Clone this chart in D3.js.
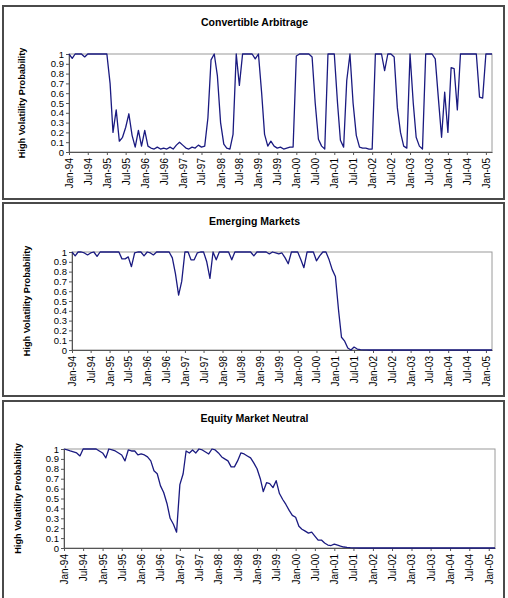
<!DOCTYPE html>
<html>
<head>
<meta charset="utf-8">
<script src="https://cdn.jsdelivr.net/npm/d3@7"></script>
<style>
  body { margin: 0; background: #fff; }
  svg { display: block; font-family: "Liberation Sans", Arial, sans-serif; }
</style>
</head>
<body>
<div id="chart"></div>
<script>
// Monthly regime probabilities, Jan-94 .. Mar-05 (one row per year)
const convertibleArbitrage = [
    1, 0.955, 1, 1, 1, 0.97, 1, 1, 1, 1, 1, 1,
    1, 0.7, 0.2, 0.43, 0.11, 0.15, 0.25, 0.39, 0.17, 0.05, 0.22, 0.06,
    0.22, 0.06, 0.04, 0.03, 0.05, 0.03, 0.04, 0.03, 0.05, 0.03, 0.07, 0.1,
    0.07, 0.04, 0.03, 0.05, 0.04, 0.07, 0.05, 0.06, 0.35, 0.94, 1, 0.78,
    0.3, 0.08, 0.04, 0.03, 0.18, 1, 0.68, 1, 1, 1, 1, 0.95,
    1, 0.6, 0.18, 0.06, 0.11, 0.06, 0.04, 0.05, 0.03, 0.04, 0.05, 0.05,
    0.98, 1, 1, 1, 1, 0.97, 0.5, 0.13, 0.06, 0.03, 1, 1,
    1, 0.5, 0.12, 0.05, 0.73, 1, 0.5, 0.17, 0.05, 0.04, 0.04, 0.03,
    0.03, 1, 1, 1, 0.83, 1, 1, 0.97, 0.45, 0.2, 0.06, 0.04,
    1, 0.5, 0.15, 0.06, 0.03, 1, 1, 1, 0.95, 0.55, 0.15, 0.61,
    0.2, 0.86, 0.85, 0.43, 1, 1, 1, 1, 1, 1, 0.56, 0.55,
    1, 1, 1
];

const emergingMarkets = [
    1, 0.96, 1, 1, 0.99, 0.97, 0.99, 1, 0.955, 1, 1, 1,
    1, 1, 1, 1, 0.93, 0.93, 0.95, 0.85, 0.99, 1, 1, 0.96,
    1, 0.99, 0.97, 1, 1, 1, 1, 1, 0.94, 0.78, 0.56, 0.7,
    1, 1, 0.92, 0.92, 0.99, 1, 1, 0.9, 0.73, 1, 0.92, 1,
    1, 1, 1, 0.92, 1, 1, 1, 1, 1, 1, 0.96, 1,
    1, 1, 1, 0.98, 1, 0.99, 0.98, 0.99, 0.94, 0.88, 1, 1,
    1, 0.92, 0.84, 1, 1, 1, 0.91, 0.96, 1, 1, 0.92, 0.82,
    0.75, 0.4, 0.13, 0.09, 0.02, 0, 0.03, 0.01, 0.004, 0.002, 0.001, 0,
    0, 0, 0, 0, 0, 0, 0, 0, 0, 0, 0, 0,
    0, 0, 0, 0, 0, 0, 0, 0, 0, 0, 0, 0,
    0, 0, 0, 0, 0, 0, 0, 0, 0, 0, 0, 0,
    0, 0, 0
];

const equityMarketNeutral = [
    1, 0.99, 0.98, 0.97, 0.96, 0.93, 1, 1, 1, 1, 1, 0.98,
    0.96, 0.91, 1, 0.99, 0.98, 0.96, 0.94, 0.88, 0.99, 0.98, 0.98, 0.94,
    0.95, 0.94, 0.92, 0.88, 0.78, 0.75, 0.63, 0.56, 0.45, 0.3, 0.24, 0.16,
    0.64, 0.75, 0.98, 0.96, 0.99, 0.96, 1, 0.99, 0.97, 0.95, 1, 0.99,
    0.96, 0.92, 0.9, 0.88, 0.82, 0.82, 0.88, 0.96, 0.95, 0.93, 0.91, 0.86,
    0.8, 0.7, 0.57, 0.66, 0.65, 0.61, 0.68, 0.55, 0.49, 0.44, 0.38, 0.33,
    0.31, 0.22, 0.19, 0.17, 0.15, 0.16, 0.12, 0.08, 0.08, 0.05, 0.03, 0.025,
    0.04, 0.03, 0.02, 0.01, 0.006, 0.003, 0.002, 0.001, 0, 0, 0, 0,
    0, 0, 0, 0, 0, 0, 0, 0, 0, 0, 0, 0,
    0, 0, 0, 0, 0, 0, 0, 0, 0, 0, 0, 0,
    0, 0, 0, 0, 0, 0, 0, 0, 0, 0, 0, 0,
    0, 0, 0
];

const xTickLabels = [
    "Jan-94", "Jul-94", "Jan-95", "Jul-95", "Jan-96", "Jul-96", "Jan-97", "Jul-97",
    "Jan-98", "Jul-98", "Jan-99", "Jul-99", "Jan-00", "Jul-00", "Jan-01", "Jul-01",
    "Jan-02", "Jul-02", "Jan-03", "Jul-03", "Jan-04", "Jul-04", "Jan-05"
];
const yTickValues = [0, 0.1, 0.2, 0.3, 0.4, 0.5, 0.6, 0.7, 0.8, 0.9, 1];
const firstMonth = "Jan-94";
const yAxisTitle = "High Volatility Probability";

const width = 508;
const height = 598;
const parseMonth = d3.timeParse("%b-%y");
const formatMonth = d3.timeFormat("%b-%y");

// Layout of the three stacked chart boxes
const panels = [
    { title: "Convertible Arbitrage", values: convertibleArbitrage,
      box: { x0: 3, y0: 6, x1: 504, y1: 199 },
      plot: { left: 69, top: 54, right: 492, bottom: 152 },
      titleY: 26, labelX: 22 },
    { title: "Emerging Markets", values: emergingMarkets,
      box: { x0: 3, y0: 203, x1: 504, y1: 396 },
      plot: { left: 72, top: 252, right: 492, bottom: 350 },
      titleY: 224.5, labelX: 27 },
    { title: "Equity Market Neutral", values: equityMarketNeutral,
      box: { x0: 3, y0: 401, x1: 504, y1: 604 },
      plot: { left: 64, top: 449, right: 495, bottom: 548 },
      titleY: 421.5, labelX: 17.5 }
];

const svg = d3.select("#chart")
    .append("svg")
    .attr("width", width)
    .attr("height", height);

function drawPanel(p) {
    const start = parseMonth(firstMonth);
    const months = p.values.map((v, i) => d3.timeMonth.offset(start, i));

    // Outer chart box
    svg.append("rect")
        .attr("x", p.box.x0)
        .attr("y", p.box.y0)
        .attr("width", p.box.x1 - p.box.x0)
        .attr("height", p.box.y1 - p.box.y0)
        .attr("fill", "#fff")
        .attr("stroke", "#4a4a4a")
        .attr("stroke-width", 2);

    const x = d3.scaleTime()
        .domain([months[0], months[months.length - 1]])
        .range([p.plot.left, p.plot.right]);

    const y = d3.scaleLinear()
        .domain([0, 1])
        .range([p.plot.bottom, p.plot.top]);

    // Plot area border
    svg.append("rect")
        .attr("x", p.plot.left)
        .attr("y", p.plot.top)
        .attr("width", p.plot.right - p.plot.left)
        .attr("height", p.plot.bottom - p.plot.top)
        .attr("fill", "none")
        .attr("stroke", "#9a9a9a")
        .attr("stroke-width", 1);

    // Title
    svg.append("text")
        .attr("x", (p.box.x0 + p.box.x1) / 2 + 1)
        .attr("y", p.titleY)
        .attr("text-anchor", "middle")
        .attr("font-size", "10.5px")
        .attr("font-weight", "bold")
        .text(p.title);

    // Y axis
    const yAxis = svg.append("g")
        .attr("transform", `translate(${p.plot.left},0)`)
        .call(d3.axisLeft(y)
            .tickValues(yTickValues)
            .tickSize(3)
            .tickSizeOuter(0)
            .tickPadding(2)
            .tickFormat(d => String(d)));
    yAxis.selectAll("text")
        .attr("font-size", "9.5px")
        .attr("font-family", "Liberation Sans, Arial, sans-serif")
        .attr("fill", "#000");
    yAxis.selectAll("line, path").attr("stroke", "#555");

    // X axis with rotated month labels
    const xAxis = svg.append("g")
        .attr("transform", `translate(0,${p.plot.bottom})`)
        .call(d3.axisBottom(x)
            .tickValues(xTickLabels.map(parseMonth))
            .tickSize(3)
            .tickSizeOuter(0)
            .tickFormat(formatMonth));
    xAxis.selectAll("text")
        .attr("font-size", "10px")
        .attr("font-family", "Liberation Sans, Arial, sans-serif")
        .attr("fill", "#000")
        .attr("text-anchor", "end")
        .attr("dy", "0.35em")
        .attr("transform", "translate(0,2) rotate(-90)")
        .attr("x", -4)
        .attr("y", 0);
    xAxis.selectAll("line, path").attr("stroke", "#555");

    // Y axis title
    svg.append("text")
        .attr("transform", `translate(${p.labelX},${(p.plot.top + p.plot.bottom) / 2}) rotate(-90)`)
        .attr("text-anchor", "middle")
        .attr("dy", "0.35em")
        .attr("font-size", "9.2px")
        .attr("font-weight", "bold")
        .text(yAxisTitle);

    // Series line
    const line = d3.line()
        .x((d, i) => x(months[i]))
        .y(d => y(d));

    svg.append("path")
        .datum(p.values)
        .attr("fill", "none")
        .attr("stroke", "#1a1a80")
        .attr("stroke-width", 1.3)
        .attr("stroke-linejoin", "round")
        .attr("d", line);
}

panels.forEach(drawPanel);
</script>
</body>
</html>
